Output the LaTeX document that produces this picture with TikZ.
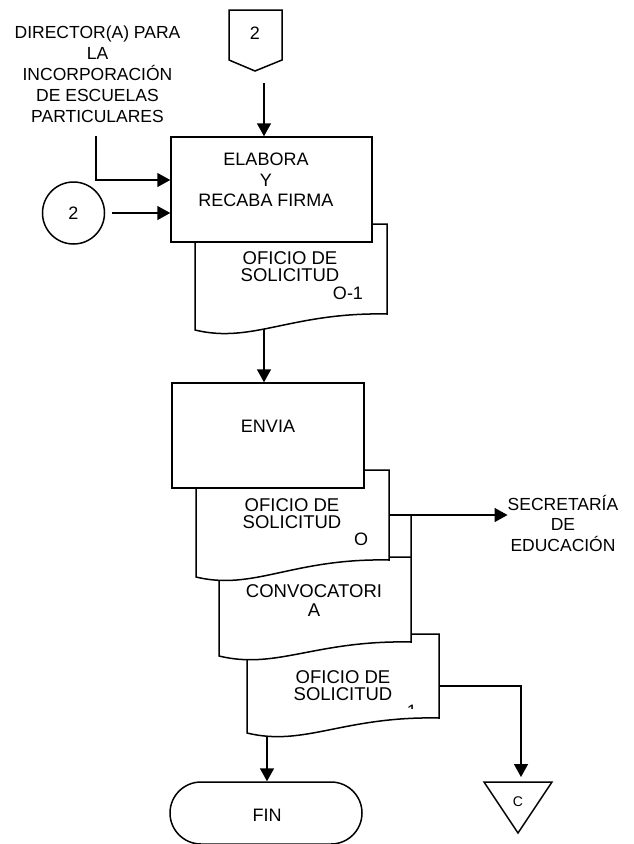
\documentclass[tikz,border=0pt]{standalone}
\usepackage{fontspec}
\setmainfont{Liberation Sans}
\usetikzlibrary{arrows.meta,calc}
\newcommand{\docpath}[5]{%
  \filldraw[fill=white, line width=1.5pt] (#1,#2) -- (#3,#2) -- (#3,#4)
    .. controls ({#1+0.5*(#3-#1)},{#4-2}) and ({#1+0.3*(#3-#1)},{#5+14}) .. (#1,#5) -- cycle;}
\begin{document}
\begin{tikzpicture}[x=1pt,y=-1pt,
  arr/.style={-{Triangle[length=13pt,width=14pt]}, line width=1.5pt},
  ln/.style={line width=1.5pt},
  procbox/.style={draw, fill=white, line width=1.5pt, inner sep=0pt},
  txt/.style={font=\fontsize{18}{20.5}\selectfont, align=center, inner sep=0pt},
  doctxt/.style={font=\fontsize{18.5}{17}\selectfont, align=center, inner sep=0pt},
  hid/.style={draw=none, inner sep=0pt}
]
\useasboundingbox (0,0) rectangle (634,844);

% off-page connector 2
\filldraw[fill=white, line width=1.5pt] (229,10) -- (282,10) -- (282,60) -- (255,71) -- (229,60) -- cycle;
\node[txt] (off2) at (255,33) {2};
\coordinate (off2out) at (264,83);

% director text
\node[txt, font=\fontsize{17.5}{21}\selectfont] (dir) at (97.5,74)
  {DIRECTOR(A) PARA\\LA\\INCORPORACIÓN\\DE ESCUELAS\\PARTICULARES};
\coordinate (dirout) at (96,136);

% circle 2
\node[draw, circle, line width=1.5pt, minimum size=62pt, inner sep=0pt, txt] (c2) at (73.5,213) {2};

% doc1
\docpath{195}{224}{387}{314}{330}
\node[hid, minimum width=192pt, minimum height=106pt] (doc1) at (291,277) {};
\node[doctxt] (doc1t) at (290,266.5) {OFICIO DE\\SOLICITUD};
\node[txt] (doc1n) at (348,293) {O-1};

% ELABORA box
\node[procbox, minimum width=201pt, minimum height=105pt] (elabora) at (271.5,189.5) {};
\node[txt] (elaborat) at (266,180) {ELABORA\\Y\\RECABA FIRMA};

% docs 4,3,2
\docpath{247}{634}{439}{718}{733}
\node[hid, minimum width=192pt, minimum height=99pt] (doc4) at (343,683.5) {};
\node[doctxt] (doc4t) at (343,685.5) {OFICIO DE\\SOLICITUD};
\begin{scope}
  \clip (395,695) rectangle (430,708.5);
  \node[txt] (doc4n) at (412,711) {1};
\end{scope}

\docpath{219}{557}{411}{642}{656}
\node[hid, minimum width=192pt, minimum height=99pt] (doc3) at (315,606.5) {};
\node[txt, font=\fontsize{18.5}{19}\selectfont] (doc3t) at (314,600.5) {CONVOCATORI\\A};

\docpath{196}{470}{389}{560}{577}
\node[hid, minimum width=193pt, minimum height=107pt] (doc2) at (292.5,523.5) {};
\node[doctxt] (doc2t) at (292,513.5) {OFICIO DE\\SOLICITUD};
\node[txt] (doc2n) at (361,539) {O};

% ENVIA box
\node[procbox, minimum width=192pt, minimum height=105pt] (envia) at (268,435.5) {};
\node[txt] (enviat) at (268,426) {ENVIA};

% SECRETARIA
\node[txt, font=\fontsize{17.5}{20.5}\selectfont] (sec) at (563,523) {SECRETARÍA\\DE\\EDUCACIÓN};

% FIN
\node[draw, line width=1.5pt, rounded corners=31pt, minimum width=192pt, minimum height=62pt, inner sep=0pt] (fin) at (266,813) {};
\node[txt] (fint) at (267,815) {FIN};

% triangle C
\filldraw[fill=white, line width=1.5pt] (484,782) -- (552,782) -- (518,833) -- cycle;
\node[txt, font=\fontsize{14}{16}\selectfont] (ct) at (518,802) {C};
\coordinate (ctop) at (521,782);

% connectors
\draw[arr] (off2out) -- (off2out |- elabora.north);
\draw[arr] (dirout) |- (elabora.west |- 0,180);
\draw[arr] (112,213) -- (elabora.west |- c2);
\draw[arr] (264,329) -- (envia.north -| 264,0);
\draw[arr] (doc2.east |- 0,515) -- (sec.west |- 0,515);
\draw[ln] (411,515) -- (doc3.north east);
\draw[arr] (267,736) -- (fin.north -| 267,0);
\draw[arr] (doc4.east |- 0,686) -| ([yshift=5pt]ctop);
\end{tikzpicture}
\end{document}
